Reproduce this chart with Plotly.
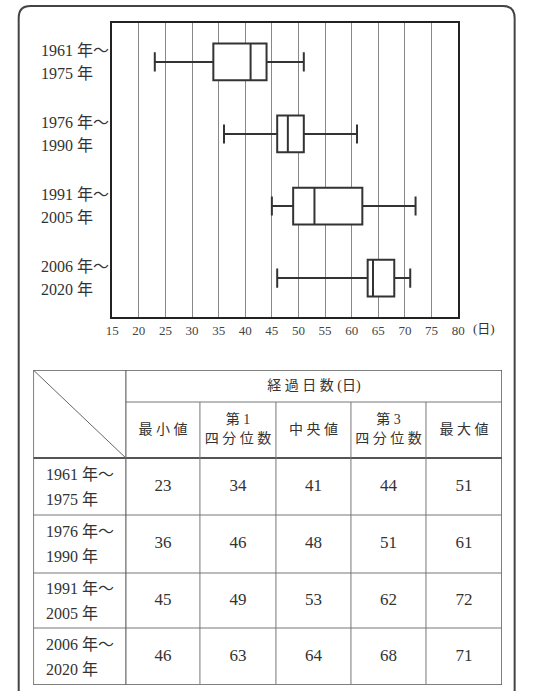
import plotly.graph_objects as go

# ---------------- data ----------------
periods = ["1961年～1975年", "1976年～1990年", "1991年～2005年", "2006年～2020年"]
period_line1 = ["1961 年～", "1976 年～", "1991 年～", "2006 年～"]
period_line2 = ["1975 年", "1990 年", "2005 年", "2020 年"]
minimum = [23, 36, 45, 46]
q1 = [34, 46, 49, 63]
median = [41, 48, 53, 64]
q3 = [44, 51, 62, 68]
maximum = [51, 61, 72, 71]
x_ticks = list(range(15, 81, 5))
col_headers = ["最 小 値", "第 1<br>四 分 位 数", "中 央 値", "第 3<br>四 分 位 数", "最 大 値"]
table_title = "経 過 日 数 (日)"
unit_label = "(日)"

# ---------------- layout constants ----------------
W, H = 546, 691
SERIF = "Liberation Serif, DejaVu Serif, Noto Sans CJK JP, serif"
INK = "#333333"

def px(x):
    return x / W

def py(y):
    return 1 - y / H

plot_l, plot_r, plot_t, plot_b = 108, 463, 23, 317
tab_l, tab_r, tab_t, tab_b = 27, 508, 370, 685
col_edges = [27, 122, 198, 276, 353, 430, 508]
row_edges = [370, 402, 458, 515, 573, 628, 685]

fig = go.Figure()

# box plot
fig.add_trace(go.Box(
    y=periods, q1=q1, median=median, q3=q3,
    lowerfence=minimum, upperfence=maximum,
    orientation="h", boxpoints=False,
    fillcolor="white", line=dict(color=INK, width=2),
    width=0.51, whiskerwidth=0.52,
    xaxis="x", yaxis="y", showlegend=False, hoverinfo="x",
))

# table text (values)
val_x, val_y, val_t = [], [], []
stats = [minimum, q1, median, q3, maximum]
for r in range(len(periods)):
    yc = (row_edges[r + 2] + row_edges[r + 3]) / 2
    for c, s in enumerate(stats):
        xc = (col_edges[c + 1] + col_edges[c + 2]) / 2
        val_x.append(xc)
        val_y.append(yc)
        val_t.append(str(s[r]))
fig.add_trace(go.Scatter(
    x=val_x, y=val_y, text=val_t, mode="text",
    textfont=dict(family=SERIF, size=17, color=INK),
    xaxis="x2", yaxis="y2", showlegend=False, hoverinfo="skip",
))

# header text
hx = [(col_edges[c + 1] + col_edges[c + 2]) / 2 for c in range(len(col_headers))]
hy = [(row_edges[1] + row_edges[2]) / 2] * len(col_headers)
fig.add_trace(go.Scatter(
    x=hx, y=hy, text=col_headers, mode="text",
    textfont=dict(family=SERIF, size=14, color=INK),
    xaxis="x2", yaxis="y2", showlegend=False, hoverinfo="skip",
))
fig.add_trace(go.Scatter(
    x=[(col_edges[1] + col_edges[-1]) / 2], y=[(row_edges[0] + row_edges[1]) / 2],
    text=[table_title], mode="text",
    textfont=dict(family=SERIF, size=14, color=INK),
    xaxis="x2", yaxis="y2", showlegend=False, hoverinfo="skip",
))

shapes = []
annotations = []

# outer rounded frame (bottom extends past the page edge)
fl, ft, fr, fb, rr = 12, 6, 521, 705, 12
path = (f"M {px(fl)},{py(ft+rr)} Q {px(fl)},{py(ft)} {px(fl+rr)},{py(ft)} "
        f"L {px(fr-rr)},{py(ft)} Q {px(fr)},{py(ft)} {px(fr)},{py(ft+rr)} "
        f"L {px(fr)},{py(fb-rr)} Q {px(fr)},{py(fb)} {px(fr-rr)},{py(fb)} "
        f"L {px(fl+rr)},{py(fb)} Q {px(fl)},{py(fb)} {px(fl)},{py(fb-rr)} Z")
shapes.append(dict(type="path", path=path, xref="paper", yref="paper",
                   line=dict(color="#444", width=2), layer="below"))

# table lines (in x2/y2 units)
def tline(x0, y0, x1, y1, w=1, color="#777"):
    shapes.append(dict(type="line", xref="x2", yref="y2", x0=x0, y0=y0, x1=x1, y1=y1,
                       line=dict(color=color, width=w)))

tline(tab_l, tab_t, tab_r, tab_t, 1.5, "#555")
tline(tab_l, tab_b, tab_r, tab_b, 1.5, "#555")
tline(tab_l, tab_t, tab_l, tab_b, 1.5, "#555")
tline(tab_r, tab_t, tab_r, tab_b, 1.5, "#555")
tline(col_edges[1], row_edges[1], tab_r, row_edges[1], 1)
tline(tab_l, row_edges[2], tab_r, row_edges[2], 2.2, "#555")
for ry in row_edges[3:-1]:
    tline(tab_l, ry, tab_r, ry, 1)
tline(col_edges[1], tab_t, col_edges[1], tab_b, 1.2, "#666")
for cx in col_edges[2:-1]:
    tline(cx, row_edges[1], cx, tab_b, 1)
tline(tab_l, tab_t, col_edges[1], row_edges[2], 1, "#666")

# table row labels
for r in range(len(periods)):
    yc = (row_edges[r + 2] + row_edges[r + 3]) / 2
    for txt, dy in ((period_line1[r], -12.5), (period_line2[r], 12.5)):
        annotations.append(dict(x=38, y=yc + dy, xref="x2", yref="y2", text=txt,
                                showarrow=False, xanchor="left", yanchor="middle",
                                font=dict(family=SERIF, size=16, color=INK)))

# box plot row labels
for r in range(len(periods)):
    for txt, ys in ((period_line1[r], 11.5), (period_line2[r], -11.5)):
        annotations.append(dict(x=px(33), y=periods[r], xref="paper", yref="y", text=txt,
                                showarrow=False, xanchor="left", yanchor="middle", yshift=ys,
                                font=dict(family=SERIF, size=16, color=INK)))

annotations.append(dict(x=px(490), y=py(328), xref="paper", yref="paper", text=unit_label,
                        showarrow=False, xanchor="center", yanchor="middle",
                        font=dict(family=SERIF, size=13, color=INK)))

fig.update_layout(
    width=W, height=H, margin=dict(l=0, r=0, t=0, b=0),
    paper_bgcolor="white", plot_bgcolor="white",
    xaxis=dict(domain=[px(plot_l), px(plot_r)], range=[15, 80],
               tickvals=x_ticks, ticktext=[str(v) for v in x_ticks],
               showgrid=True, gridcolor="#888", gridwidth=1,
               showline=True, linecolor="#222", linewidth=2, mirror=True,
               ticks="", ticklen=0, zeroline=False,
               tickfont=dict(family=SERIF, size=13, color="#444")),
    yaxis=dict(domain=[py(plot_b), py(plot_t)], type="category",
               categoryorder="array", categoryarray=periods,
               range=[3.54, -0.54], showticklabels=False, showgrid=False,
               showline=True, linecolor="#222", linewidth=2, mirror=True,
               ticks="", zeroline=False),
    xaxis2=dict(domain=[px(tab_l), px(tab_r)], range=[tab_l, tab_r], visible=False,
                anchor="y2"),
    yaxis2=dict(domain=[py(tab_b), py(tab_t)], range=[tab_b, tab_t], visible=False,
                anchor="x2"),
    shapes=shapes, annotations=annotations,
)

fig.write_html(
    "out.html",
    config={"displayModeBar": False},
    post_script="document.body.style.margin='0';document.body.style.overflow='hidden';",
)
